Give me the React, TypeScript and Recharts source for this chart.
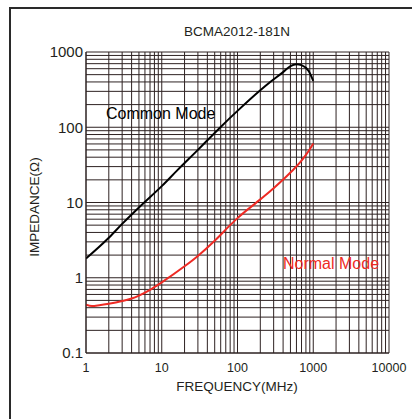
import React from 'react';
import { LineChart, Line, XAxis, YAxis, CartesianGrid } from 'recharts';

const commonFreq = [1, 2, 3, 5, 10, 16, 30, 60, 100, 200, 273, 400, 500, 600, 700, 870, 1000];
const commonZ = [1.8, 3.4, 5.2, 8.6, 16.5, 26.7, 50, 101, 165, 310, 402, 540, 650, 690, 670, 560, 414];

const normalFreq = [1, 1.2, 1.5, 2, 3, 4, 5, 7, 10, 20, 30, 50, 80, 100, 200, 300, 500, 700, 800, 900, 1000];
const normalZ = [0.44, 0.42, 0.43, 0.45, 0.49, 0.53, 0.58, 0.69, 0.87, 1.42, 1.95, 3.1, 5.0, 6.2, 11, 15.5, 25, 36, 43, 51, 61];

const xTicks = [
  1, 2, 3, 4, 5, 6, 7, 8, 9,
  10, 20, 30, 40, 50, 60, 70, 80, 90,
  100, 200, 300, 400, 500, 600, 700, 800, 900,
  1000, 2000, 3000, 4000, 5000, 6000, 7000, 8000, 9000, 10000,
];
const yTicks = [
  0.1, 0.2, 0.3, 0.4, 0.5, 0.6, 0.7, 0.8, 0.9,
  1, 2, 3, 4, 5, 6, 7, 8, 9,
  10, 20, 30, 40, 50, 60, 70, 80, 90,
  100, 200, 300, 400, 500, 600, 700, 800, 900, 1000,
];
const decades = [0.1, 1, 10, 100, 1000, 10000];

const commonData = commonFreq.map((f, i) => ({ f, z: commonZ[i] }));
const normalData = normalFreq.map((f, i) => ({ f, z: normalZ[i] }));

const FONT = '"Liberation Sans", Arial, sans-serif';
const TEXT = '#231f20';

const fmt = (v: number) => (decades.includes(v) ? String(v) : '');

export default function App() {
  return (
    <div style={{ position: 'fixed', left: 0, top: 0, width: 412, height: 419, overflow: 'hidden', fontFamily: FONT, background: '#fff' }}>
      <div
        style={{
          position: 'absolute',
          left: 9,
          top: 7,
          width: 420,
          height: 410,
          borderLeft: '2px solid #2a2a2a',
          borderTop: '2px solid #2a2a2a',
          borderBottom: '1px solid #aaa',
        }}
      />
      <LineChart
        width={412}
        height={419}
        margin={{ top: 52, right: 23, bottom: 36, left: 26 }}
        style={{ position: 'absolute', left: 0, top: 0 }}
      >
        <CartesianGrid stroke="#2e2222" strokeWidth={1} />
        <XAxis
          type="number"
          dataKey="f"
          scale="log"
          domain={[1, 10000]}
          ticks={xTicks}
          interval={0}
          tickFormatter={fmt}
          allowDataOverflow
          height={30}
          tickSize={0}
          tickMargin={10}
          axisLine={{ stroke: '#2a2020' }}
          tick={{ fontSize: 12.5, fill: TEXT, fontFamily: FONT }}
        />
        <YAxis
          type="number"
          dataKey="z"
          scale="log"
          domain={[0.1, 1000]}
          ticks={yTicks}
          interval={0}
          tickFormatter={fmt}
          allowDataOverflow
          width={60}
          tickSize={0}
          tickMargin={3}
          axisLine={{ stroke: '#2a2020' }}
          tick={{ fontSize: 15, fill: TEXT, fontFamily: FONT }}
        />
        <Line
          data={commonData}
          dataKey="z"
          type="monotone"
          stroke="#000"
          strokeWidth={2}
          dot={false}
          isAnimationActive={false}
        />
        <Line
          data={normalData}
          dataKey="z"
          type="monotone"
          stroke="#ee2a24"
          strokeWidth={2}
          dot={false}
          isAnimationActive={false}
        />
      </LineChart>
      <div style={{ position: 'absolute', left: 137, width: 200, top: 24, textAlign: 'center', fontSize: 13.5, color: TEXT }}>
        BCMA2012-181N
      </div>
      <div style={{ position: 'absolute', left: 137, width: 200, top: 379, textAlign: 'center', fontSize: 13.5, color: TEXT }}>
        FREQUENCY(MHz)
      </div>
      <div
        style={{
          position: 'absolute',
          left: 34,
          top: 207,
          transform: 'translate(-50%, -50%) rotate(-90deg)',
          whiteSpace: 'nowrap',
          fontSize: 13.5,
          color: TEXT,
        }}
      >
        IMPEDANCE(Ω)
      </div>
      <div style={{ position: 'absolute', left: 106, top: 105, fontSize: 16, color: '#000', whiteSpace: 'nowrap' }}>
        Common Mode
      </div>
      <div style={{ position: 'absolute', left: 283, top: 255, fontSize: 16, color: '#ee2a24', whiteSpace: 'nowrap' }}>
        Normal Mode
      </div>
    </div>
  );
}
